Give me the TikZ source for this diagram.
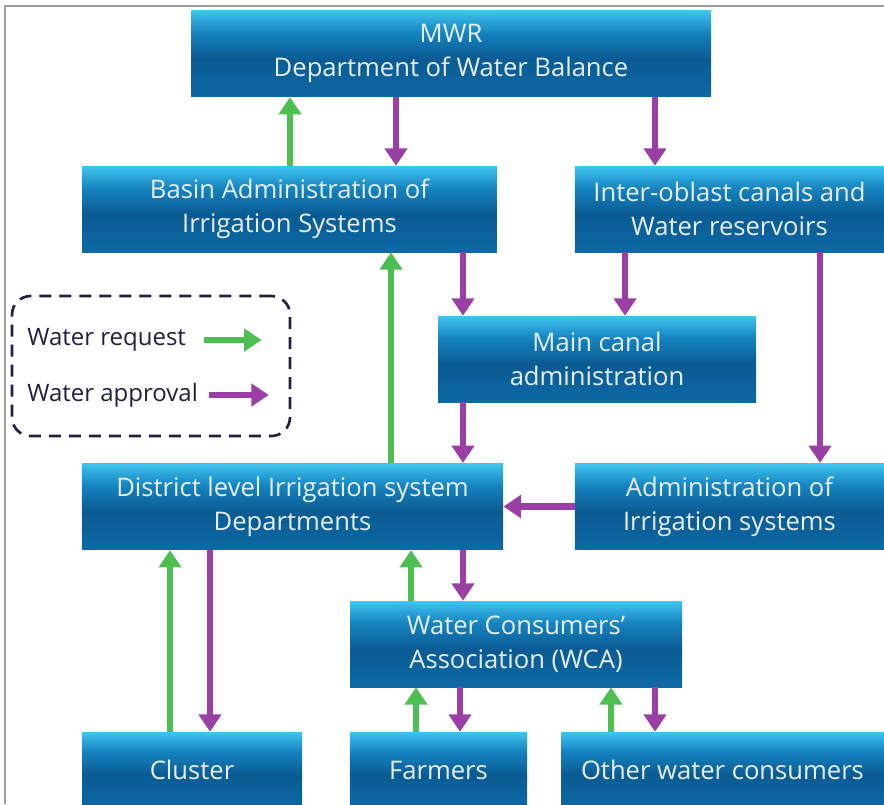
\documentclass[tikz,border=0pt]{standalone}
\usepackage{fontspec}
\setmainfont{Open Sans}
\usepackage{xcolor}
\usetikzlibrary{arrows.meta, positioning, calc}
\definecolor{boxlight}{HTML}{40C4F0}
\definecolor{boxmid}{HTML}{1583BF}
\definecolor{boxdark}{HTML}{0B5B93}
\definecolor{boxlow}{HTML}{0D69A4}
\definecolor{boxtext}{HTML}{E8EEF6}
\definecolor{reqgreen}{HTML}{4DBE52}
\definecolor{apppurple}{HTML}{9A3FA6}
\definecolor{legtext}{HTML}{1E2140}
\pgfdeclareverticalshading{boxshade}{100bp}{color(0bp)=(boxlow); color(25bp)=(boxlow);
  color(47bp)=(boxdark); color(62bp)=(boxmid); color(75bp)=(boxlight); color(100bp)=(boxlight)}

\begin{document}
\begin{tikzpicture}[x=0.75pt, y=-0.75pt,
  box/.style={rectangle, shading=boxshade, text=boxtext, align=center, inner sep=0pt,
              font=\fontsize{19.2}{25.5}\selectfont},
  req/.style={-{Triangle[width=16.5pt, length=13pt]}, line width=5pt, draw=reqgreen},
  app/.style={-{Triangle[width=16.5pt, length=13pt]}, line width=5pt, draw=apppurple},
  legtxt/.style={anchor=west, text=legtext, inner sep=0pt, font=\fontsize{18}{20}\selectfont}]
\useasboundingbox (0,0) rectangle (884,804);
\clip (0,0) rectangle (884,804);
% Frame
\draw[gray!75, line width=1.5pt] (5,804) -- (5,6) -- (884,6);
% Boxes
\node[box, minimum width=390pt, minimum height=65pt] (mwr) at (451,53.5) {MWR\\Department of Water Balance};
\node[box, minimum width=311pt, minimum height=64.5pt] (basin) at (289.5,209) {Basin Administration of\\Irrigation Systems};
\node[box, minimum width=232pt, minimum height=64.5pt] (inter) at (729.5,209) {Inter-oblast canals and\\Water reservoirs};
\node[box, minimum width=238.5pt, minimum height=64.5pt] (main) at (597,359) {Main canal\\administration};
\node[box, minimum width=316pt, minimum height=65pt] (district) at (292.5,506.5) {District level Irrigation system\\Departments};
\node[box, minimum width=232pt, minimum height=65pt] (admin) at (729.5,506.5) {Administration of\\Irrigation systems};
\node[box, minimum width=249pt, minimum height=64.5pt] (wca) at (516,644) {Water Consumers’\\Association (WCA)};
\node[box, minimum width=165pt, minimum height=57pt] (cluster) at (192,770) {Cluster};
\node[box, minimum width=133pt, minimum height=57pt] (farmers) at (438.5,770) {Farmers};
\node[box, minimum width=242pt, minimum height=57pt] (other) at (722.5,770) {Other water consumers};
% Legend
\node[draw=legtext, line width=2pt, dash pattern=on 9pt off 6pt, rounded corners=14pt,
      minimum width=208.5pt, minimum height=105pt] (legend) at (151,366) {};
\node[legtxt] (lreq) at (27,340) {Water request};
\node[legtxt] (lapp) at (27,395) {Water approval};
\draw[req] ([xshift=13pt]lreq.east) -- ++(58,0);
\draw[app] ([xshift=8pt]lapp.east) -- ++(60,0);
% Water requests (upwards)
\foreach \a/\b/\x in {basin/mwr/290, district/basin/391, wca/district/411,
                      cluster/district/170, farmers/wca/416, other/wca/611} {
  \draw[req] (\x,0 |- \a.north) -- (\x,0 |- \b.south);
}
% Water approvals (downwards)
\foreach \a/\b/\x in {mwr/basin/396, mwr/inter/655, basin/main/463, inter/main/625,
                      inter/admin/820, main/district/463, district/wca/463,
                      district/cluster/210, wca/farmers/460, wca/other/655} {
  \draw[app] (\x,0 |- \a.south) -- (\x,0 |- \b.north);
}
\draw[app] (admin.west) -- (district.east);
\end{tikzpicture}
\end{document}
